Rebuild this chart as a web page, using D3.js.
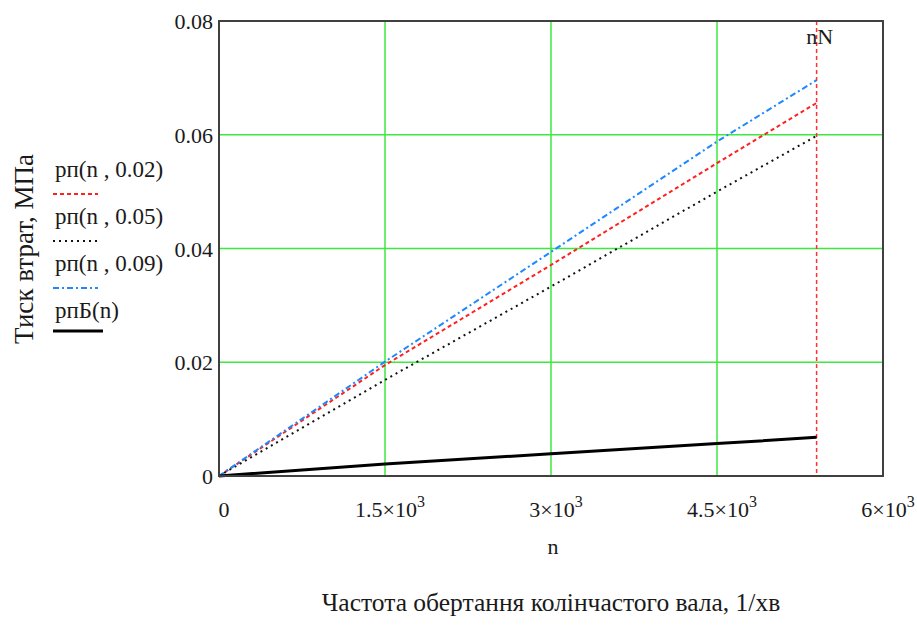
<!DOCTYPE html>
<html>
<head>
<meta charset="utf-8">
<script src="https://cdn.jsdelivr.net/npm/d3@7"></script>
<style>
  body { margin: 0; background: #fff; }
  svg text { font-family: "Liberation Serif", "DejaVu Serif", serif; fill: #1a1a1a; }
</style>
</head>
<body>
<svg id="chart" width="917" height="625"></svg>
<script>
// data
const nVals = [0, 1500, 3000, 4500, 5400];
const p002 = [0, 0.0195, 0.0371, 0.0550, 0.0656];
const p005 = [0, 0.0169, 0.0333, 0.0500, 0.0598];
const p009 = [0, 0.0201, 0.0394, 0.0588, 0.0696];
const pB   = [0, 0.0021, 0.0039, 0.0057, 0.0068];
const nN = 5400;

const xTicks = [0, 1500, 3000, 4500, 6000];
const xTickLabels = [['0', ''], ['1.5×10', '3'], ['3×10', '3'], ['4.5×10', '3'], ['6×10', '3']];
const yTicks = [0, 0.02, 0.04, 0.06, 0.08];
const yTickLabels = ['0', '0.02', '0.04', '0.06', '0.08'];

const legendNames = ['рп(n , 0.02)', 'рп(n , 0.05)', 'рп(n , 0.09)', 'рпБ(n)'];

const series = [
  { name: legendNames[0], values: p002, color: '#ff2020', dash: '4,3', width: 2 },
  { name: legendNames[1], values: p005, color: '#111111', dash: '2,4', width: 2 },
  { name: legendNames[2], values: p009, color: '#1e88ff', dash: '6,3,2,3', width: 2 },
  { name: legendNames[3], values: pB, color: '#000000', dash: null, width: 3 }
];

let svg = d3.select('#chart');

const L = 219, R = 883, T = 21, B = 476;

let x = d3.scaleLinear().domain([0, 6000]).range([L, R]);
let y = d3.scaleLinear().domain([0, 0.08]).range([B, T]);

// grid
let grid = svg.append('g');
grid.selectAll('.vgrid')
  .data(xTicks.slice(1, -1))
  .enter().append('line')
  .attr('x1', d => x(d)).attr('x2', d => x(d))
  .attr('y1', T).attr('y2', B)
  .attr('stroke', '#3ee83e').attr('stroke-width', 1.5);
grid.selectAll('.hgrid')
  .data(yTicks.slice(1, -1))
  .enter().append('line')
  .attr('x1', L).attr('x2', R)
  .attr('y1', d => y(d)).attr('y2', d => y(d))
  .attr('stroke', '#3ee83e').attr('stroke-width', 1.5);

// nN marker
svg.append('line')
  .attr('x1', x(nN)).attr('x2', x(nN))
  .attr('y1', T).attr('y2', B)
  .attr('stroke', '#ff3030').attr('stroke-width', 1.5)
  .attr('stroke-dasharray', '4,3');
svg.append('text')
  .attr('x', x(nN) + 3).attr('y', 44)
  .attr('text-anchor', 'middle')
  .attr('font-size', 22)
  .text('nN');

// lines
let line = d3.line()
  .x((d, i) => x(nVals[i]))
  .y(d => y(d));

svg.selectAll('.series')
  .data(series)
  .enter().append('path')
  .attr('d', d => line(d.values))
  .attr('fill', 'none')
  .attr('stroke', d => d.color)
  .attr('stroke-width', d => d.width)
  .attr('stroke-dasharray', d => d.dash);

// frame
svg.append('rect')
  .attr('x', L).attr('y', T)
  .attr('width', R - L).attr('height', B - T)
  .attr('fill', 'none')
  .attr('stroke', '#404040').attr('stroke-width', 2);

// y tick labels
svg.selectAll('.ylab')
  .data(yTicks)
  .enter().append('text')
  .attr('x', 213)
  .attr('y', d => y(d) + 8)
  .attr('text-anchor', 'end')
  .attr('font-size', 22)
  .text((d, i) => yTickLabels[i]);

// x tick labels
let xl = svg.selectAll('.xlab')
  .data(xTicks)
  .enter().append('text')
  .attr('x', d => x(d) + 5)
  .attr('y', 517)
  .attr('text-anchor', 'middle')
  .attr('font-size', 22);
xl.append('tspan').text((d, i) => xTickLabels[i][0]);
xl.append('tspan')
  .attr('dy', -10)
  .attr('font-size', 16)
  .text((d, i) => xTickLabels[i][1]);

// axis titles
svg.append('text')
  .attr('x', 553).attr('y', 554)
  .attr('text-anchor', 'middle')
  .attr('font-size', 22)
  .text('n');

svg.append('text')
  .attr('x', 551).attr('y', 611)
  .attr('text-anchor', 'middle')
  .attr('font-size', 25.5)
  .text('Частота обертання колінчастого вала, 1/хв');

svg.append('text')
  .attr('transform', 'translate(33,249) rotate(-90)')
  .attr('text-anchor', 'middle')
  .attr('font-size', 27)
  .text('Тиск втрат, МПа');

// legend
let leg = svg.selectAll('.leg')
  .data(series)
  .enter().append('g')
  .attr('transform', (d, i) => `translate(53, ${177 + i * 47})`);
leg.append('text')
  .attr('x', 2).attr('y', 0)
  .attr('font-size', 23)
  .text(d => d.name);
leg.append('line')
  .attr('x1', 0).attr('x2', (d, i) => i === 3 ? 50 : 45)
  .attr('y1', (d, i) => i === 3 ? 13 : 17)
  .attr('y2', (d, i) => i === 3 ? 13 : 17)
  .attr('stroke', d => d.color)
  .attr('stroke-width', d => d.width)
  .attr('stroke-dasharray', d => d.dash);
</script>
</body>
</html>
